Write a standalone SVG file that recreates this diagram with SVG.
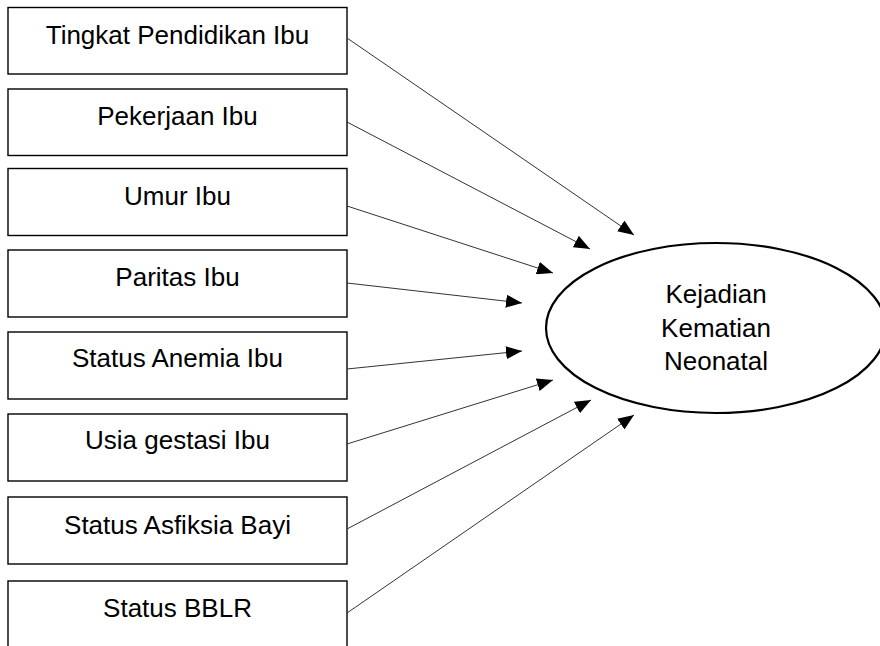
<svg xmlns="http://www.w3.org/2000/svg" width="880" height="646" viewBox="0 0 880 646">
<style>
.box{fill:#fff;stroke:#000;stroke-width:1.4}
.lbl{font-family:"Liberation Sans",Arial,sans-serif;font-size:26px;fill:#000;text-anchor:middle}
.con{stroke:#333;stroke-width:1;fill:none;marker-end:url(#ah)}
</style>
<defs>
<marker id="ah" markerUnits="userSpaceOnUse" markerWidth="16" markerHeight="13" refX="16" refY="6.5" orient="auto">
<path d="M0,0 L16,6.5 L0,13 z" fill="#000"/>
</marker>
</defs>
<rect width="880" height="646" fill="#fff"/>
<g id="n1"><rect class="box" x="8" y="7.5" width="339" height="66.5"/><text class="lbl" x="177.5" y="43.5">Tingkat Pendidikan Ibu</text></g>
<g id="n2"><rect class="box" x="8" y="89" width="339" height="66.5"/><text class="lbl" x="177.5" y="125">Pekerjaan Ibu</text></g>
<g id="n3"><rect class="box" x="8" y="168.5" width="339" height="67"/><text class="lbl" x="177.5" y="204.5">Umur Ibu</text></g>
<g id="n4"><rect class="box" x="8" y="250" width="339" height="67"/><text class="lbl" x="177.5" y="286">Paritas Ibu</text></g>
<g id="n5"><rect class="box" x="8" y="332" width="339" height="67"/><text class="lbl" x="177.5" y="367">Status Anemia Ibu</text></g>
<g id="n6"><rect class="box" x="8" y="414" width="339" height="67"/><text class="lbl" x="177.5" y="449">Usia gestasi Ibu</text></g>
<g id="n7"><rect class="box" x="8" y="497" width="339" height="67"/><text class="lbl" x="177.5" y="533.5">Status Asfiksia Bayi</text></g>
<g id="n8"><rect class="box" x="8" y="581" width="339" height="80"/><text class="lbl" x="177.5" y="617">Status BBLR</text></g>
<g id="target"><ellipse cx="716" cy="328" rx="170" ry="85" fill="#fff" stroke="#000" stroke-width="2.2"/>
<text class="lbl" x="716" y="303">Kejadian</text><text class="lbl" x="716" y="337">Kematian</text><text class="lbl" x="716" y="369.5">Neonatal</text></g>
<g id="connectors">
<line class="con" x1="347" y1="38" x2="634" y2="235"/>
<line class="con" x1="347" y1="122" x2="590" y2="249"/>
<line class="con" x1="347" y1="206" x2="553" y2="273"/>
<line class="con" x1="347" y1="283" x2="522" y2="303"/>
<line class="con" x1="347" y1="369" x2="522" y2="351"/>
<line class="con" x1="347" y1="444" x2="553" y2="380"/>
<line class="con" x1="347" y1="529" x2="591" y2="400"/>
<line class="con" x1="347" y1="613" x2="634" y2="415"/>
</g>
</svg>
